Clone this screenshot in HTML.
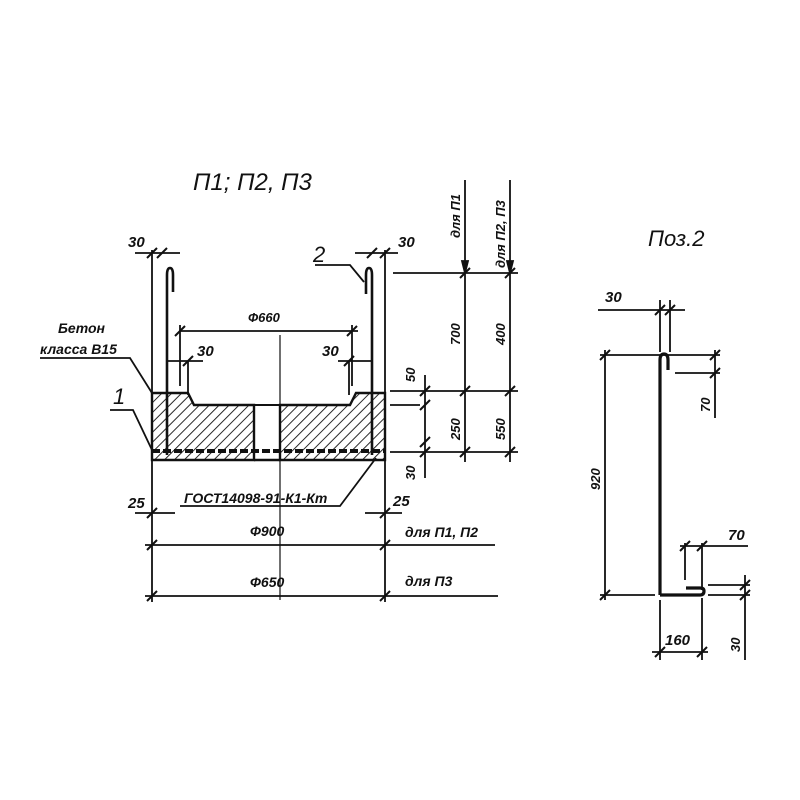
<!DOCTYPE html>
<html><head><meta charset="utf-8"><style>
html,body{margin:0;padding:0;background:#fff}
svg{display:block}
text{font-family:"Liberation Sans",sans-serif;font-style:italic;fill:#111}
</style></head><body>
<svg width="800" height="800" viewBox="0 0 800 800" xmlns="http://www.w3.org/2000/svg">
<defs>
<pattern id="h" width="7" height="7" patternUnits="userSpaceOnUse" patternTransform="rotate(45)">
<line x1="0" y1="0" x2="0" y2="7" stroke="#111" stroke-width="1.8"/>
</pattern>
</defs>
<g stroke="#111" fill="none" stroke-width="1.8">
<path d="M152,393 H188 L194,405 H254 V460 H152 Z" fill="url(#h)" stroke-width="2.4"/>
<path d="M280,405 H350 L356,393 H385 V460 H280 Z" fill="url(#h)" stroke-width="2.4"/>
<line x1="254" y1="460" x2="280" y2="460" stroke-width="2.4"/>
<line x1="194" y1="405" x2="350" y2="405" stroke-width="2"/>
<line x1="152" y1="451" x2="385" y2="451" stroke-dasharray="8,3" stroke-width="4"/>
<path d="M167,455 V275 Q167,268 170,268 Q173,268 173,275 V292" stroke-width="2.6"/>
<path d="M372,455 V275 Q372,268 369,268 Q366,268 366,275 V294" stroke-width="2.6"/>
<line x1="152" y1="250" x2="152" y2="393"/>
<line x1="385" y1="250" x2="385" y2="393"/>
<line x1="280" y1="335" x2="280" y2="600" stroke-width="1.2"/>
<line x1="135" y1="253" x2="180" y2="253"/>
<line x1="355" y1="253" x2="398" y2="253"/>
<line x1="180" y1="331" x2="358" y2="331"/>
<line x1="180" y1="325" x2="180" y2="386"/>
<line x1="352" y1="325" x2="352" y2="386"/>
<line x1="167" y1="361" x2="203" y2="361"/>
<line x1="338" y1="361" x2="372" y2="361"/>
<line x1="188" y1="361" x2="188" y2="395"/>
<line x1="349" y1="361" x2="349" y2="395"/>
<line x1="393" y1="273" x2="518" y2="273"/>
<line x1="390" y1="391" x2="518" y2="391"/>
<line x1="390" y1="405" x2="420" y2="405"/>
<line x1="390" y1="452" x2="518" y2="452"/>
<line x1="465" y1="180" x2="465" y2="462"/>
<line x1="510" y1="180" x2="510" y2="462"/>
<line x1="425" y1="375" x2="425" y2="478"/>
<line x1="152" y1="460" x2="152" y2="602"/>
<line x1="385" y1="460" x2="385" y2="602"/>
<line x1="135" y1="513" x2="175" y2="513"/>
<line x1="365" y1="513" x2="402" y2="513"/>
<line x1="145" y1="545" x2="495" y2="545"/>
<line x1="145" y1="596" x2="498" y2="596"/>
<path d="M180,506 H340 L376,458"/>
<path d="M40,358 H130 L152,393"/>
<path d="M110,410 H133 L152,450"/>
<path d="M315,265 H350 L364,282"/>
<g stroke-width="2">
<path d="M147,258 l10,-10 M157,258 l10,-10 M367,258 l10,-10 M380,258 l10,-10
M175,336 l10,-10 M347,336 l10,-10 M183,366 l10,-10 M344,366 l10,-10
M460,278 l10,-10 M505,278 l10,-10 M460,396 l10,-10 M505,396 l10,-10 M460,457 l10,-10 M505,457 l10,-10
M420,396 l10,-10 M420,410 l10,-10 M420,457 l10,-10 M420,447 l10,-10
M147,518 l10,-10 M380,518 l10,-10 M147,550 l10,-10 M380,550 l10,-10 M147,601 l10,-10 M380,601 l10,-10"/>
</g>
<path d="M465,273 l-3,-12 h6 z M510,273 l-3,-12 h6 z" fill="#111"/>
<path d="M660,595 V360 Q660,354 664,354 Q668,354 668,360 V370" stroke-width="3.2"/>
<path d="M660,595 H700 Q704,595 704,591 Q704,588 700,588 H686" stroke-width="3.2"/>
<line x1="598" y1="310" x2="685" y2="310"/>
<line x1="660" y1="300" x2="660" y2="352"/>
<line x1="670" y1="300" x2="670" y2="352"/>
<line x1="605" y1="350" x2="605" y2="600"/>
<line x1="600" y1="355" x2="720" y2="355"/>
<line x1="600" y1="595" x2="655" y2="595"/>
<line x1="675" y1="373" x2="720" y2="373"/>
<line x1="715" y1="350" x2="715" y2="418"/>
<line x1="680" y1="546" x2="748" y2="546"/>
<line x1="685" y1="543" x2="685" y2="580"/>
<line x1="702" y1="543" x2="702" y2="590"/>
<line x1="660" y1="600" x2="660" y2="660"/>
<line x1="702" y1="598" x2="702" y2="660"/>
<line x1="652" y1="652" x2="708" y2="652"/>
<line x1="708" y1="585" x2="750" y2="585"/>
<line x1="708" y1="595" x2="750" y2="595"/>
<line x1="745" y1="575" x2="745" y2="660"/>
<g stroke-width="2">
<path d="M655,315 l10,-10 M665,315 l10,-10 M600,360 l10,-10 M600,600 l10,-10 M710,360 l10,-10 M710,378 l10,-10
M680,551 l10,-10 M697,551 l10,-10 M655,657 l10,-10 M697,657 l10,-10 M740,590 l10,-10 M740,600 l10,-10"/>
</g>
</g>
<g font-size="15" font-weight="bold">
<text x="193" y="190" font-size="24" font-weight="normal">П1; П2, П3</text>
<text x="648" y="246" font-size="22" font-weight="normal">Поз.2</text>
<text x="128" y="247">30</text>
<text x="398" y="247">30</text>
<text x="248" y="322" font-size="13">Ф660</text>
<text x="197" y="356">30</text>
<text x="322" y="356">30</text>
<text x="58" y="333" font-size="14">Бетон</text>
<text x="40" y="354" font-size="14">класса В15</text>
<text x="113" y="404" font-size="22" font-weight="normal">1</text>
<text x="313" y="262" font-size="22" font-weight="normal">2</text>
<text x="184" y="503" font-size="14">ГОСТ14098-91-К1-Кт</text>
<text x="128" y="508">25</text>
<text x="393" y="506">25</text>
<text x="250" y="536" font-size="14">Ф900</text>
<text x="250" y="587" font-size="14">Ф650</text>
<text x="405" y="537" font-size="14">для П1, П2</text>
<text x="405" y="586" font-size="14">для П3</text>
<text x="605" y="302">30</text>
<text x="728" y="540">70</text>
<text x="665" y="645">160</text>
<g font-size="13">
<text transform="translate(460,238) rotate(-90)">для П1</text>
<text transform="translate(505,268) rotate(-90)">для П2, П3</text>
<text transform="translate(460,345) rotate(-90)">700</text>
<text transform="translate(505,345) rotate(-90)">400</text>
<text transform="translate(460,440) rotate(-90)">250</text>
<text transform="translate(505,440) rotate(-90)">550</text>
<text transform="translate(415,382) rotate(-90)">50</text>
<text transform="translate(415,480) rotate(-90)">30</text>
<text transform="translate(600,490) rotate(-90)">920</text>
<text transform="translate(710,412) rotate(-90)">70</text>
<text transform="translate(740,652) rotate(-90)">30</text>
</g>
</g>
</svg>
</body></html>
